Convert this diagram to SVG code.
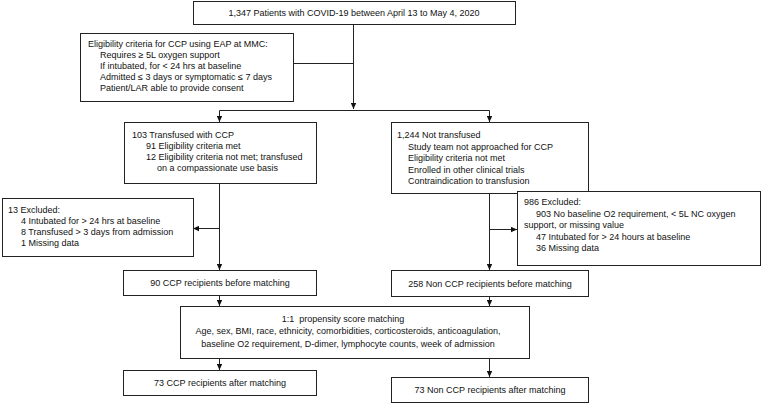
<svg xmlns="http://www.w3.org/2000/svg" width="763" height="404" viewBox="0 0 763 404">
<style>
.box{fill:#fff;stroke:#222;stroke-width:1}
.t{font-family:"Liberation Sans",Arial,sans-serif;font-size:9px;fill:#111}
.c{text-anchor:middle}
.ln{fill:none;stroke:#222;stroke-width:1}
</style>
<defs>
<marker id="ah" markerUnits="userSpaceOnUse" markerWidth="6" markerHeight="6" refX="6" refY="3" orient="auto">
<path d="M0,0.3 L6,3 L0,5.7 z" fill="#111"/>
</marker>
</defs>
<rect width="763" height="404" fill="#fff"/>
<g id="connectors">
<path class="ln" d="M353.5,24 V109" marker-end="url(#ah)"/>
<path class="ln" d="M293,63.5 H353.5"/>
<path class="ln" d="M219.5,110.5 H489.5"/>
<path class="ln" d="M219.5,110.5 V122" marker-end="url(#ah)"/>
<path class="ln" d="M489.5,110.5 V122" marker-end="url(#ah)"/>
<path class="ln" d="M219.5,183 V270" marker-end="url(#ah)"/>
<path class="ln" d="M219.5,228.5 H193" marker-end="url(#ah)"/>
<path class="ln" d="M489.5,193 V270" marker-end="url(#ah)"/>
<path class="ln" d="M489.5,229.5 H517" marker-end="url(#ah)"/>
<path class="ln" d="M219.5,295 V306" marker-end="url(#ah)"/>
<path class="ln" d="M489.5,296 V306" marker-end="url(#ah)"/>
<path class="ln" d="M219.5,358 V370" marker-end="url(#ah)"/>
<path class="ln" d="M489.5,358 V377" marker-end="url(#ah)"/>
</g>
<g id="n-total">
<rect class="box" x="193.5" y="1.5" width="322" height="23"/>
<text class="t c" x="354" y="16">1,347 Patients with COVID-19 between April 13 to May 4, 2020</text>
</g>
<g id="n-eligibility">
<rect class="box" x="80.5" y="33.5" width="213" height="68"/>
<text class="t" x="88" y="47">Eligibility criteria for CCP using EAP at MMC:</text>
<text class="t" x="100" y="58">Requires ≥ 5L oxygen support</text>
<text class="t" x="100" y="69">If intubated, for &lt; 24 hrs at baseline</text>
<text class="t" x="100" y="80">Admitted ≤ 3 days or symptomatic ≤ 7 days</text>
<text class="t" x="100" y="91">Patient/LAR able to provide consent</text>
</g>
<g id="n-transfused">
<rect class="box" x="124.5" y="122.5" width="192" height="61"/>
<text class="t" x="132" y="138">103 Transfused with CCP</text>
<text class="t" x="146" y="149">91 Eligibility criteria met</text>
<text class="t" x="146" y="160">12 Eligibility criteria not met; transfused</text>
<text class="t" x="157" y="171">on a compassionate use basis</text>
</g>
<g id="n-not-transfused">
<rect class="box" x="391.5" y="122.5" width="197" height="71"/>
<text class="t" x="397" y="138">1,244 Not transfused</text>
<text class="t" x="408" y="149.5">Study team not approached for CCP</text>
<text class="t" x="408" y="161">Eligibility criteria not met</text>
<text class="t" x="408" y="172.5">Enrolled in other clinical trials</text>
<text class="t" x="408" y="184">Contraindication to transfusion</text>
</g>
<g id="n-excluded-13">
<rect class="box" x="2.5" y="198.5" width="191" height="58"/>
<text class="t" x="8" y="212.5">13 Excluded:</text>
<text class="t" x="21" y="223.5">4 Intubated for &gt; 24 hrs at baseline</text>
<text class="t" x="21" y="234.5">8 Transfused &gt; 3 days from admission</text>
<text class="t" x="21" y="245.5">1 Missing data</text>
</g>
<g id="n-excluded-986">
<rect class="box" x="517.5" y="191.5" width="243" height="74"/>
<text class="t" x="524" y="205">986 Excluded:</text>
<text class="t" x="536" y="216.5">903 No baseline O2 requirement, &lt; 5L NC oxygen</text>
<text class="t" x="524" y="228">support, or missing value</text>
<text class="t" x="536" y="239.5">47 Intubated for &gt; 24 hours at baseline</text>
<text class="t" x="536" y="251">36 Missing data</text>
</g>
<g id="n-ccp-before">
<rect class="box" x="123.5" y="270.5" width="193" height="25"/>
<text class="t c" x="220" y="286">90 CCP recipients before matching</text>
</g>
<g id="n-nonccp-before">
<rect class="box" x="391.5" y="270.5" width="197" height="26"/>
<text class="t c" x="490" y="286.5">258 Non CCP recipients before matching</text>
</g>
<g id="n-matching">
<rect class="box" x="180.5" y="306.5" width="349" height="52"/>
<text class="t c" x="343" y="321.5" xml:space="preserve">1:1  propensity score matching</text>
<text class="t c" x="348" y="334">Age, sex, BMI, race, ethnicity, comorbidities, corticosteroids, anticoagulation,</text>
<text class="t c" x="348" y="346.5">baseline O2 requirement, D-dimer, lymphocyte counts, week of admission</text>
</g>
<g id="n-ccp-after">
<rect class="box" x="123.5" y="370.5" width="193" height="25"/>
<text class="t c" x="220" y="386">73 CCP recipients after matching</text>
</g>
<g id="n-nonccp-after">
<rect class="box" x="391.5" y="377.5" width="197" height="25"/>
<text class="t c" x="490" y="393">73 Non CCP recipients after matching</text>
</g>
</svg>
